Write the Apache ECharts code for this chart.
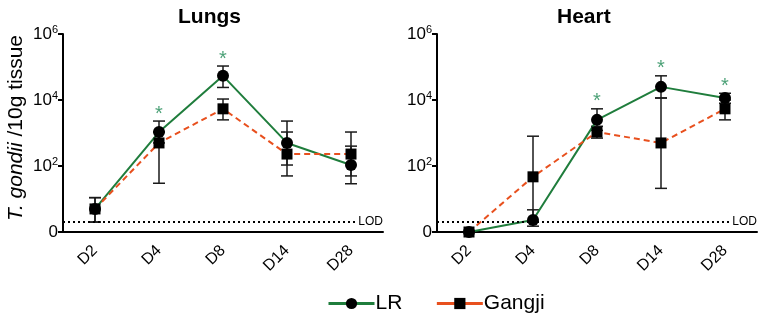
<!DOCTYPE html>
<html>
<head>
<meta charset="utf-8">
<script src="https://cdn.jsdelivr.net/npm/echarts@6/dist/echarts.min.js"></script>
<style>
  html, body { margin: 0; padding: 0; background: #fff; }
  #chart { width: 765px; height: 319px; }
</style>
</head>
<body>
<div id="chart"></div>
<script>
// parasite counts per 10 g tissue (0 = not detected)
var days = ["D2", "D4", "D8", "D14", "D28"];
var yTicks = [0, 2, 4, 6];
var lod = 2;

var lungsLR     = [5, 1070, 54000, 500, 107];
var lungsLRHi   = [11, 2300, 107000, 2300, 400];
var lungsLRLo   = [2, 500, 24000, 107, 29];
var lungsGj     = [5, 500, 5400, 230, 230];
var lungsGjHi   = [11, 1070, 10700, 1070, 1070];
var lungsGjLo   = [2, 30, 2500, 50, 50];
var lungsSig    = [1, 2];

var heartLR     = [0, 2.3, 2500, 25000, 11500];
var heartLRHi   = [0, 4.7, 5400, 54000, 16000];
var heartLRLo   = [0, 1.5, 1200, 11500, 8000];
var heartGj     = [0, 47, 1070, 500, 5400];
var heartGjHi   = [0, 800, 1600, 11500, 10000];
var heartGjLo   = [0, 2, 700, 21, 2500];
var heartSig    = [2, 3, 4];

var GREEN = "#1f7d3c";
var ORANGE = "#e8501e";
var FONT = "Liberation Sans, Arial, sans-serif";

function lg(v) { return v > 1 ? Math.log10(v) : 0; }

function errData(lo, hi) {
    return lo.map(function (v, i) { return [i, lg(v), lg(hi[i])]; });
}

function errRender(params, api) {
    var a = api.coord([api.value(0), api.value(1)]);
    var b = api.coord([api.value(0), api.value(2)]);
    if (Math.abs(a[1] - b[1]) < 0.5) return;
    var w = 6;
    var st = { stroke: "#1a1a1a", lineWidth: 1.5 };
    return {
        type: "group",
        children: [
            { type: "line", shape: { x1: a[0], y1: a[1], x2: a[0], y2: b[1] }, style: st },
            { type: "line", shape: { x1: a[0] - w, y1: a[1], x2: a[0] + w, y2: a[1] }, style: st },
            { type: "line", shape: { x1: a[0] - w, y1: b[1], x2: a[0] + w, y2: b[1] }, style: st }
        ]
    };
}

function xAxisFor(gi) {
    return {
        type: "category", gridIndex: gi, data: days,
        axisLine: { lineStyle: { color: "#000", width: 2 } },
        axisTick: { alignWithLabel: true, length: 5, lineStyle: { color: "#000", width: 2 } },
        axisLabel: { rotate: 45, fontSize: 16, color: "#000", fontFamily: FONT, margin: 16 }
    };
}

function yAxisFor(gi, withName) {
    var ax = {
        type: "value", gridIndex: gi, min: 0, max: 6, interval: 2,
        axisLine: { show: true, lineStyle: { color: "#000", width: 2 } },
        axisTick: { show: true, length: 5, lineStyle: { color: "#000", width: 2 } },
        splitLine: { show: false },
        axisLabel: {
            margin: 5, color: "#000", fontFamily: FONT,
            formatter: function (v) { return v === 0 ? "{b|0}" : "{b|10}{s|" + v + "}"; },
            rich: {
                b: { fontSize: 17, fontFamily: FONT, color: "#000", lineHeight: 20 },
                s: { fontSize: 11, fontFamily: FONT, color: "#000", verticalAlign: "top", lineHeight: 20, padding: [0, 0, 12, 0] }
            }
        }
    };
    if (withName) {
        ax.name = "{i|T. gondii} /10g tissue";
        ax.nameLocation = "middle";
        ax.nameGap = 36;
        ax.nameTextStyle = {
            rich: {
                i: { fontSize: 21, fontStyle: "italic", fontFamily: FONT, color: "#000" }
            },
            fontSize: 21, fontFamily: FONT, color: "#000", padding: [0, 0, 0, 10]
        };
    }
    return ax;
}

function panelSeries(gi, lr, lrLo, lrHi, gj, gjLo, gjHi, sig) {
    return [
        {
            type: "custom", xAxisIndex: gi, yAxisIndex: gi, z: 2, silent: true,
            renderItem: errRender, encode: { x: 0, y: [1, 2] }, data: errData(lrLo, lrHi)
        },
        {
            type: "custom", xAxisIndex: gi, yAxisIndex: gi, z: 2, silent: true,
            renderItem: errRender, encode: { x: 0, y: [1, 2] }, data: errData(gjLo, gjHi)
        },
        {
            name: "LR", type: "line", xAxisIndex: gi, yAxisIndex: gi, z: 3,
            symbol: "circle", symbolSize: 12, showSymbol: true,
            itemStyle: { color: "#000" },
            lineStyle: { color: GREEN, width: 2 },
            data: lr.map(lg),
            markLine: {
                silent: true, symbol: "none",
                lineStyle: { color: "#000", type: [2, 3], width: 2 },
                label: {
                    formatter: "LOD", position: "insideEnd", fontSize: 12, color: "#000",
                    fontFamily: FONT, backgroundColor: "#fff", padding: [0, 0, 0, 3], distance: 0
                },
                data: [{ yAxis: lg(lod) }]
            }
        },
        {
            name: "Gangji", type: "line", xAxisIndex: gi, yAxisIndex: gi, z: 4,
            symbol: "rect", symbolSize: 11, showSymbol: true,
            itemStyle: { color: "#000" },
            lineStyle: { color: ORANGE, width: 2, type: [6, 4] },
            data: gj.map(lg)
        },
        {
            type: "scatter", xAxisIndex: gi, yAxisIndex: gi, z: 5, silent: true,
            symbolSize: 0, itemStyle: { color: "transparent" },
            label: {
                show: true, position: "inside", formatter: "*", fontSize: 20,
                color: "#1f8a55", fontFamily: FONT, offset: [0, -7]
            },
            data: sig.map(function (i) { return [i, lg(lrHi[i])]; })
        }
    ];
}

var chart = echarts.init(document.getElementById("chart"), null, { renderer: "canvas" });
chart.setOption({
    animation: false,
    backgroundColor: "#fff",
    title: [
        { text: "Lungs", left: 178, top: 7, padding: 0, textStyle: { fontSize: 21, fontWeight: "bold", fontFamily: FONT, color: "#000" } },
        { text: "Heart", left: 557, top: 7, padding: 0, textStyle: { fontSize: 21, fontWeight: "bold", fontFamily: FONT, color: "#000" } }
    ],
    legend: {
        left: 322, top: 288, itemWidth: 46, itemHeight: 14, itemGap: 33,
        textStyle: { fontSize: 21, fontFamily: FONT, color: "#000", padding: [0, 0, 0, -4] },
        data: [
            { name: "LR", lineStyle: { type: "solid", width: 3 } },
            { name: "Gangji", lineStyle: { type: "solid", width: 3 } }
        ]
    },
    grid: [
        { left: 63, top: 34, width: 320, height: 198 },
        { left: 437, top: 34, width: 320, height: 198 }
    ],
    xAxis: [xAxisFor(0), xAxisFor(1)],
    yAxis: [yAxisFor(0, true), yAxisFor(1, false)],
    series: panelSeries(0, lungsLR, lungsLRLo, lungsLRHi, lungsGj, lungsGjLo, lungsGjHi, lungsSig)
        .concat(panelSeries(1, heartLR, heartLRLo, heartLRHi, heartGj, heartGjLo, heartGjHi, heartSig))
});
</script>
</body>
</html>
